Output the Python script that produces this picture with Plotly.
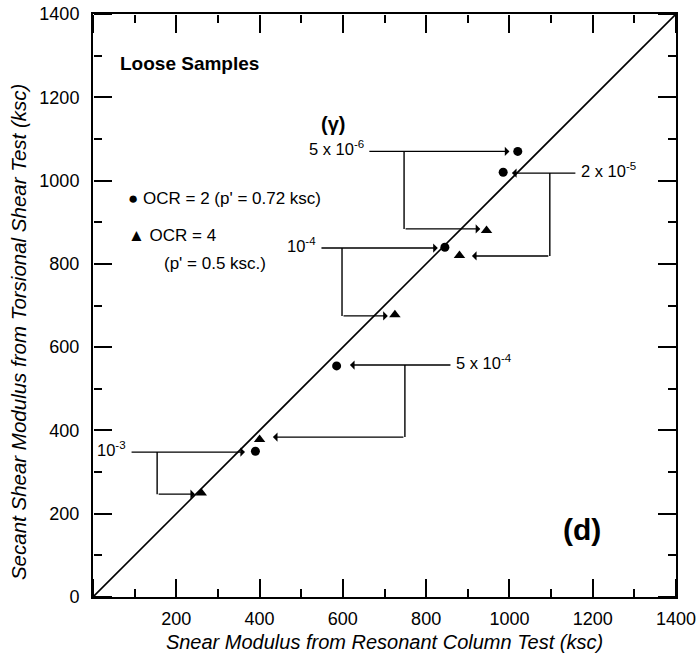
import plotly.graph_objects as go

# ---- data ----
rc_ocr2 = [1020, 985, 845, 585, 390]      # resonant column modulus, OCR = 2
ts_ocr2 = [1070, 1020, 840, 555, 350]     # torsional shear modulus, OCR = 2
rc_ocr4 = [945, 880, 725, 400, 260]       # OCR = 4
ts_ocr4 = [880, 820, 678, 378, 250]

strain_labels = ["5 x 10<sup>-6</sup>", "2 x 10<sup>-5</sup>", "10<sup>-4</sup>",
                 "5 x 10<sup>-4</sup>", "10<sup>-3</sup>"]
label_side = ["left", "right", "left", "right", "left"]
line_start_x = [660, 1162, 545, 862, 89]
upper_y = [1070, 1018, 838, 557, 348]
upper_tip_x = [1000, 1006, 828, 617, 365]
branch_x = [747, 1097, 598, 749, 154]
lower_y = [884, 819, 675, 384, 247]
lower_tip_x = [930, 910, 708, 432, 245]

equality_x = [0, 1400]
equality_y = [0, 1400]

x_tickvals = [0, 200, 400, 600, 800, 1000, 1200, 1400]
x_ticktext = ["", "200", "400", "600", "800", "1000", "1200", "1400"]
axis_range = [0, 1400]
major_step = 200
minor_step = 100

FONT = "Liberation Sans, Arial, Helvetica, sans-serif"

fig = go.Figure()

fig.add_trace(go.Scatter(x=equality_x, y=equality_y, mode="lines",
                         line=dict(color="black", width=1.6), showlegend=False,
                         hoverinfo="skip"))

# vertical branch segments
vx, vy = [], []
for bx, uy, ly in zip(branch_x, upper_y, lower_y):
    vx += [bx, bx, None]
    vy += [uy, ly, None]
fig.add_trace(go.Scatter(x=vx, y=vy, mode="lines", line=dict(color="black", width=1.4),
                         showlegend=False, hoverinfo="skip"))

fig.add_trace(go.Scatter(x=rc_ocr2, y=ts_ocr2, mode="markers",
                         marker=dict(symbol="circle", size=9, color="black"),
                         showlegend=False))
fig.add_trace(go.Scatter(x=rc_ocr4, y=ts_ocr4, mode="markers",
                         marker=dict(symbol="triangle-up", size=10, color="black"),
                         showlegend=False))

# invisible traces registering the tick-only overlay axes
for k in range(2, 6):
    fig.add_trace(go.Scatter(x=equality_x, y=equality_y, xaxis=f"x{k}", yaxis=f"y{k}",
                             mode="lines", line=dict(color="rgba(0,0,0,0)", width=0),
                             showlegend=False, hoverinfo="skip"))

annotations = []
for lab, side, sx, uy, utx, bx, ly, ltx in zip(strain_labels, label_side, line_start_x,
                                               upper_y, upper_tip_x, branch_x, lower_y,
                                               lower_tip_x):
    annotations.append(dict(x=utx, y=uy, ax=sx, ay=uy, xref="x", yref="y", axref="x",
                            ayref="y", text="", showarrow=True, arrowhead=1,
                            arrowsize=1.1, arrowwidth=1.4, arrowcolor="black"))
    annotations.append(dict(x=ltx, y=ly, ax=bx, ay=ly, xref="x", yref="y", axref="x",
                            ayref="y", text="", showarrow=True, arrowhead=1,
                            arrowsize=1.1, arrowwidth=1.4, arrowcolor="black"))
    annotations.append(dict(x=sx, y=uy, xref="x", yref="y", text=lab, showarrow=False,
                            xanchor="right" if side == "left" else "left",
                            yanchor="middle", yshift=3,
                            xshift=-2 if side == "left" else 2,
                            font=dict(family=FONT, size=16.5, color="black")))

annotations += [
    dict(x=60, y=1282, xref="x", yref="y", text="<b>Loose Samples</b>", showarrow=False,
         xanchor="left", yanchor="middle", font=dict(family=FONT, size=19, color="black")),
    dict(x=576, y=1135, xref="x", yref="y", text="<b>(γ)</b>", showarrow=False,
         xanchor="center", yanchor="middle", font=dict(family=FONT, size=20, color="black")),
    dict(x=80, y=956, xref="x", yref="y", text="● OCR = 2 (p' = 0.72 ksc)", showarrow=False,
         xanchor="left", yanchor="middle", font=dict(family=FONT, size=17, color="black")),
    dict(x=80, y=867, xref="x", yref="y", text="▲ OCR = 4", showarrow=False,
         xanchor="left", yanchor="middle", font=dict(family=FONT, size=17, color="black")),
    dict(x=165, y=802, xref="x", yref="y", text="(p' = 0.5 ksc.)", showarrow=False,
         xanchor="left", yanchor="middle", font=dict(family=FONT, size=17, color="black")),
    dict(x=1174, y=161, xref="x", yref="y", text="<b>(d)</b>", showarrow=False,
         xanchor="center", yanchor="middle", font=dict(family=FONT, size=30, color="black")),
    dict(x=-0.1286, y=0.4545, xref="paper", yref="paper", textangle=-90,
         text="<i>Secant Shear Modulus from Torsional Shear Test (ksc)</i>", showarrow=False,
         xanchor="center", yanchor="middle", font=dict(family=FONT, size=20.5, color="black")),
]

main_axis = dict(range=axis_range, showgrid=False, zeroline=False, showline=True,
                 linecolor="black", linewidth=2, mirror=True, ticks="",
                 automargin=False, tickfont=dict(family=FONT, size=18, color="black"))


def tick_axis(overlay, side, position, step, length, width):
    # tick-only axis sitting on a plot edge; its outside ticks point into the plot
    return dict(range=axis_range, overlaying=overlay, anchor="free", position=position,
                side=side, showgrid=False, zeroline=False, showline=False,
                ticks="outside", ticklen=length, tickwidth=width, tickcolor="black",
                tickmode="linear", tick0=0, dtick=step, showticklabels=False,
                automargin=False)


fig.update_layout(
    width=700, height=653, margin=dict(l=93, r=24, t=14, b=56),
    plot_bgcolor="white", paper_bgcolor="white", showlegend=False,
    annotations=annotations,
    xaxis=dict(**main_axis, tickmode="array", tickvals=x_tickvals, ticktext=x_ticktext,
               ticklabelstandoff=4,
               title=dict(text="<i>Snear Modulus from Resonant Column Test (ksc)</i>",
                          font=dict(family=FONT, size=20, color="black"), standoff=10)),
    yaxis=dict(**main_axis, tickmode="linear", tick0=0, dtick=major_step,
               ticklabelstandoff=8),
    xaxis2=tick_axis("x", "top", 0, major_step, 18, 2),
    xaxis3=tick_axis("x", "bottom", 1, major_step, 18, 2),
    xaxis4=tick_axis("x", "top", 0, minor_step, 8, 1.5),
    xaxis5=tick_axis("x", "bottom", 1, minor_step, 8, 1.5),
    yaxis2=tick_axis("y", "right", 0, major_step, 18, 2),
    yaxis3=tick_axis("y", "left", 1, major_step, 18, 2),
    yaxis4=tick_axis("y", "right", 0, minor_step, 8, 1.5),
    yaxis5=tick_axis("y", "left", 1, minor_step, 8, 1.5),
)

fig.write_html("out.html")
